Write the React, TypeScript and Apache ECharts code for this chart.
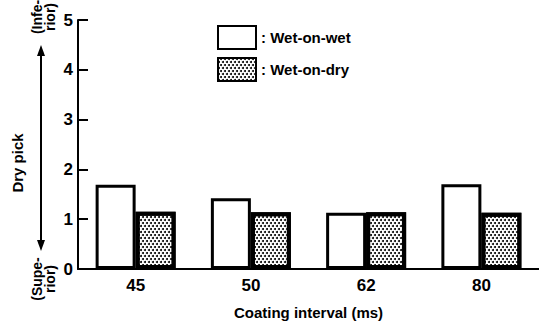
import React, { useEffect, useRef } from "react";
import * as echarts from "echarts";

const categories = ["45", "50", "62", "80"];
const wetOnWet = [1.69, 1.42, 1.13, 1.7];
const wetOnDry = [1.15, 1.14, 1.14, 1.13];
const yTicks = [0, 1, 2, 3, 4, 5];
const seriesNames = ["Wet-on-wet", "Wet-on-dry"];

const FONT = "'Liberation Sans', Arial, sans-serif";

export default function App() {
  const ref = useRef<HTMLDivElement>(null);
  useEffect(() => {
    if (!ref.current) return;
    const chart = echarts.init(ref.current, null, { renderer: "svg" });
    const decal = {
      color: "#000",
      backgroundColor: "#fff",
      symbol: "circle",
      symbolSize: 1,
      dashArrayX: [
        [1.3, 1.1],
        [0, 1.2, 1.3, 0],
      ],
      dashArrayY: [1.3, 0.9],
      rotation: 0,
    };
    chart.setOption({
      animation: false,
      backgroundColor: "#fff",
      grid: { left: 78, right: -7, top: 20, bottom: 48, containLabel: false },
      legend: {
        orient: "vertical",
        left: 212,
        top: 20,
        itemWidth: 38,
        itemHeight: 23,
        itemGap: 7,
        icon: "rect",
        data: seriesNames,
        formatter: (n: string) => ": " + n,
        textStyle: { fontFamily: FONT, fontSize: 15, color: "#000", fontWeight: "bold" },
      },
      xAxis: {
        type: "category",
        data: categories,
        name: "Coating interval (ms)",
        nameLocation: "middle",
        nameGap: 36,
        nameTextStyle: { fontFamily: FONT, fontSize: 15, color: "#000", fontWeight: "bold" },
        axisLine: { lineStyle: { color: "#000", width: 2 } },
        axisTick: { show: false },
        axisLabel: { fontFamily: FONT, fontSize: 17, color: "#000", fontWeight: "bold", margin: 8 },
      },
      yAxis: {
        type: "value",
        min: 0,
        max: 5,
        interval: 1,
        splitLine: { show: false },
        axisLine: { show: true, lineStyle: { color: "#000", width: 2 } },
        axisTick: { show: true, inside: true, length: 10, lineStyle: { color: "#000", width: 2 } },
        axisLabel: {
          fontFamily: FONT,
          fontSize: 17,
          fontWeight: "bold",
          color: "#000",
          margin: 5,
          formatter: (v: number) => (yTicks.includes(v) ? String(v) : ""),
        },
      },
      series: [
        {
          name: seriesNames[0],
          type: "bar",
          data: wetOnWet,
          barWidth: 40,
          barGap: "0%",
          itemStyle: { color: "#fff", borderColor: "#000", borderWidth: 3 },
        },
        {
          name: seriesNames[1],
          type: "bar",
          data: wetOnDry,
          barWidth: 40,
          itemStyle: { color: "#fff", borderColor: "#000", borderWidth: 4, decal },
        },
      ],
      graphic: [
        {
          type: "text",
          x: 17,
          y: 163,
          rotation: Math.PI / 2,
          style: {
            text: "Dry pick",
            fontFamily: FONT,
            fontSize: 15,
            fontWeight: "bold",
            fill: "#000",
            align: "center",
            verticalAlign: "middle",
          },
        },
        {
          type: "text",
          x: 43,
          y: 17,
          rotation: Math.PI / 2,
          style: {
            text: "(Infe-\nrior)",
            fontFamily: FONT,
            fontSize: 14,
            fontWeight: "bold",
            lineHeight: 13,
            fill: "#000",
            align: "center",
            verticalAlign: "middle",
          },
        },
        {
          type: "text",
          x: 43,
          y: 279,
          rotation: Math.PI / 2,
          style: {
            text: "(Supe-\nrior)",
            fontFamily: FONT,
            fontSize: 14,
            fontWeight: "bold",
            lineHeight: 13,
            fill: "#000",
            align: "center",
            verticalAlign: "middle",
          },
        },
        {
          type: "line",
          shape: { x1: 41, y1: 52, x2: 41, y2: 244 },
          style: { stroke: "#000", lineWidth: 2 },
        },
        {
          type: "polygon",
          shape: { points: [[41, 45], [37, 56], [45, 56]] },
          style: { fill: "#000" },
        },
        {
          type: "polygon",
          shape: { points: [[41, 251], [37, 240], [45, 240]] },
          style: { fill: "#000" },
        },
      ],
    });
    return () => chart.dispose();
  }, []);
  return (
    <div
      ref={ref}
      style={{ position: "fixed", left: 0, top: 0, width: 539, height: 325 }}
    />
  );
}
